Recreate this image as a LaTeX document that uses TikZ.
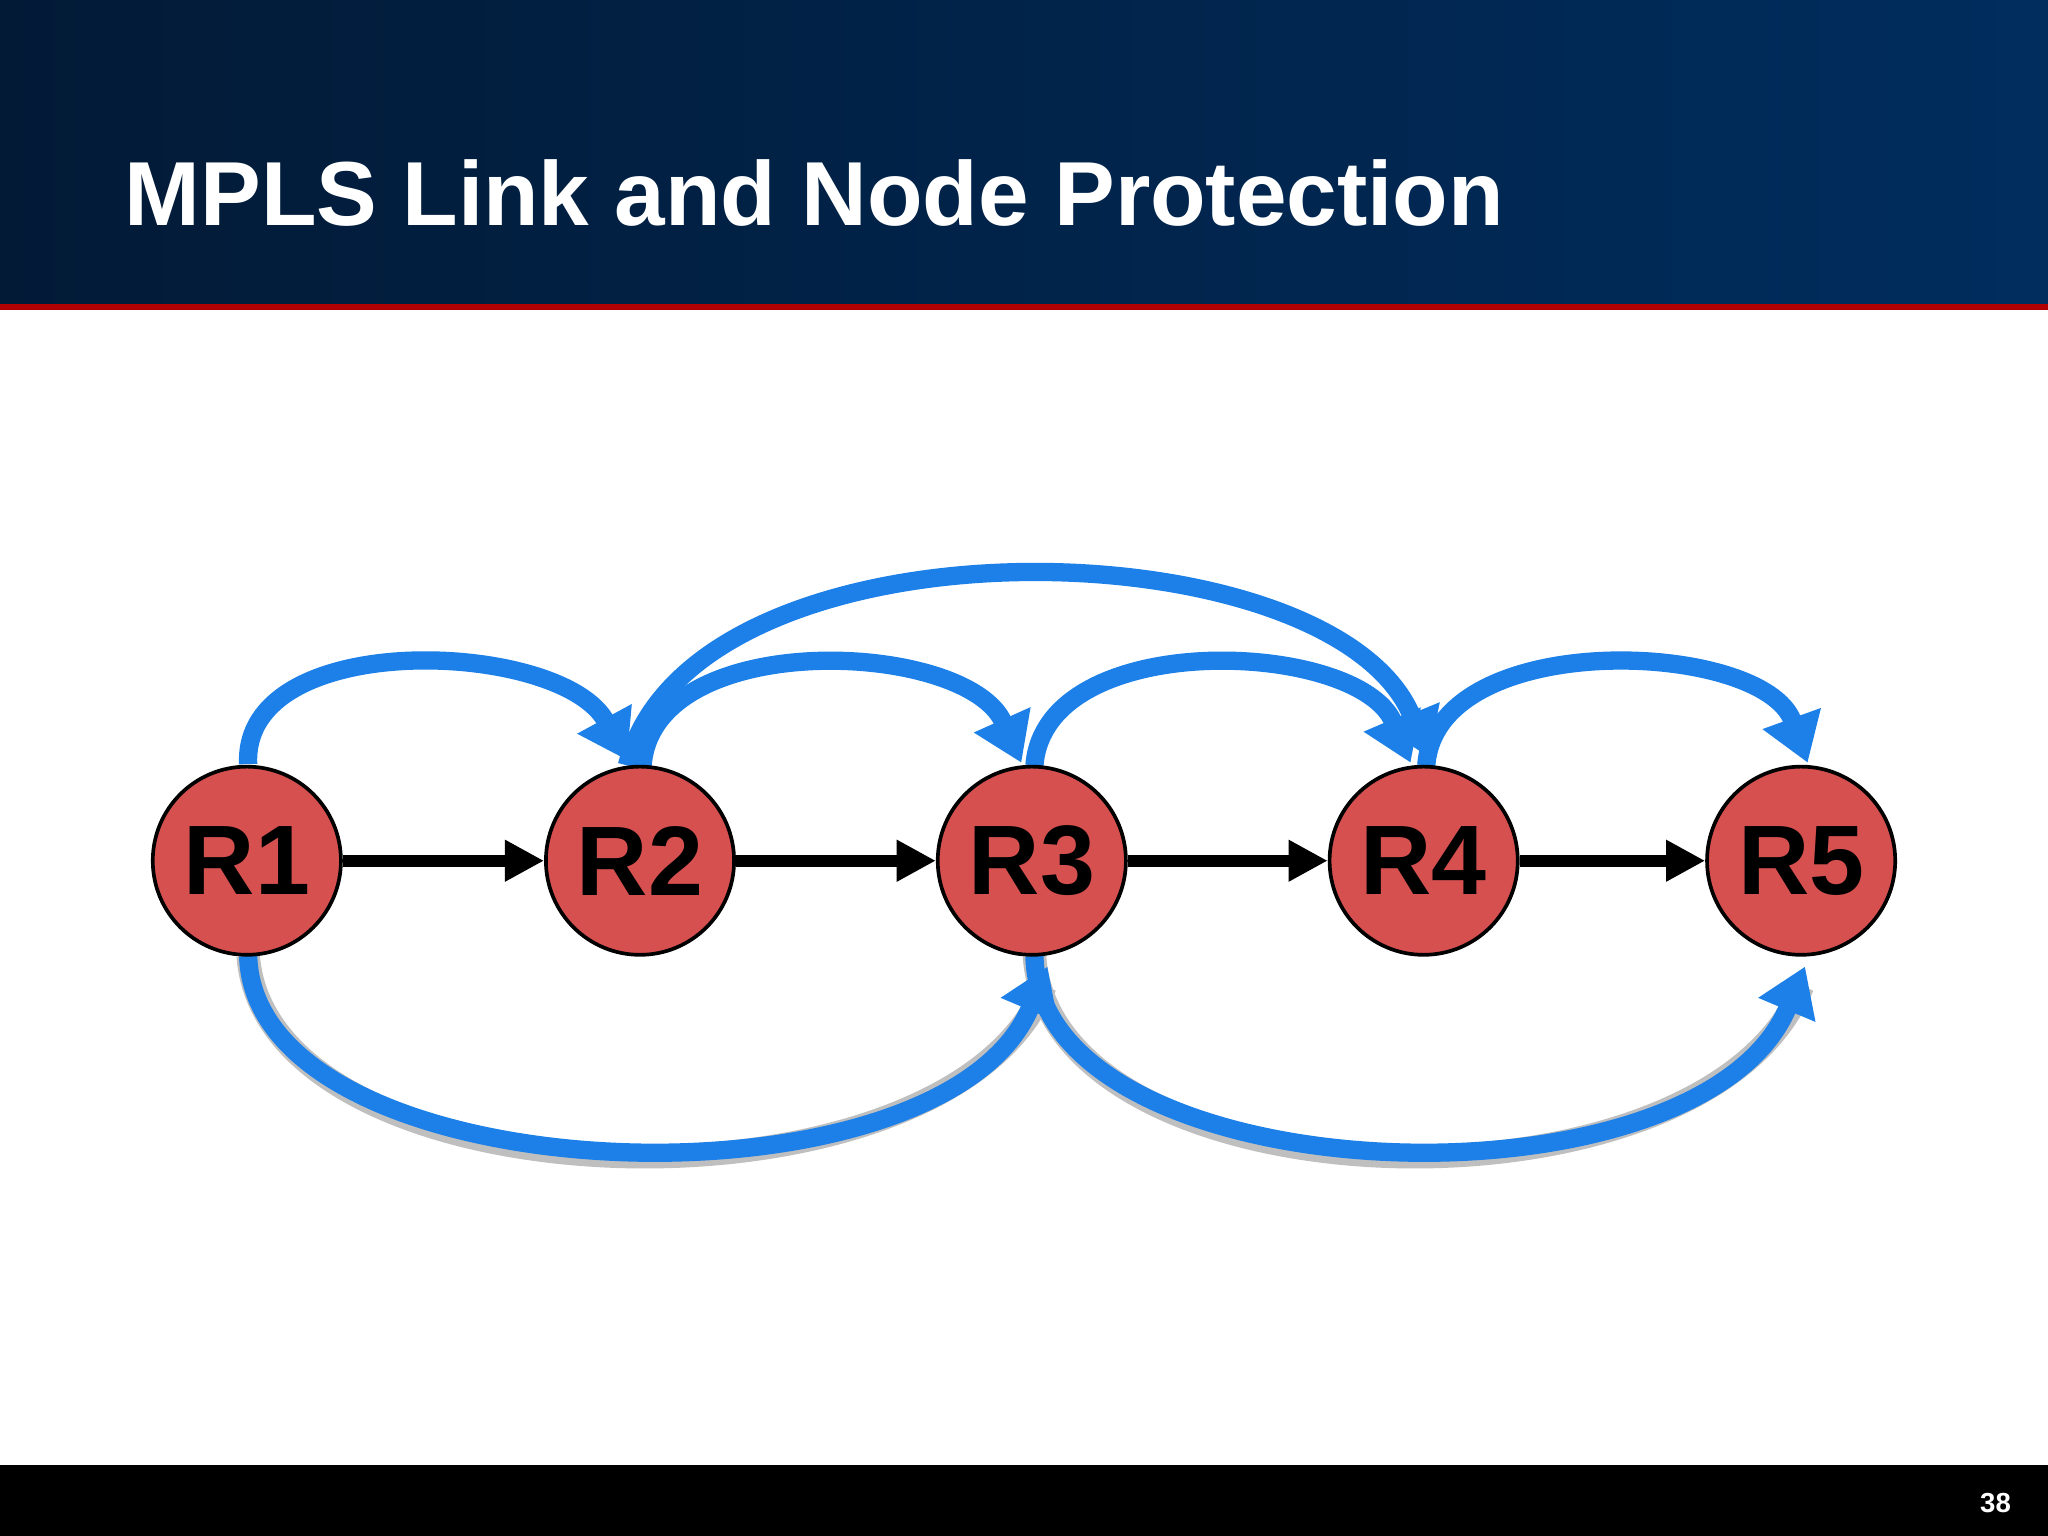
\documentclass[tikz,border=0pt]{standalone}
\usepackage{fontspec}
\setmainfont{Liberation Sans}
\usetikzlibrary{arrows.meta}
\definecolor{navyL}{HTML}{021A36}
\definecolor{navyR}{HTML}{002D5E}
\definecolor{nodered}{HTML}{D65050}
\definecolor{arcblue}{HTML}{1C80E8}
\begin{document}
\begin{tikzpicture}[x=0.01cm,y=-0.01cm,
  router/.style={circle,draw=black,line width=0.8pt,fill=nodered,minimum size=1.44cm,inner sep=0pt,font=\bfseries\fontsize{21.5}{22}\selectfont},
  link/.style={line width=2.6pt,-{Triangle[length=0.3cm,width=0.3cm]}},
  arc/.style={draw=arcblue,line width=0.14cm,-{Triangle[length=0.36cm,width=0.45cm]}},
  shadow/.style={draw=black!25,line width=0.18cm}]
\useasboundingbox (0,0) rectangle (1568,1176);
\shade[left color=navyL,right color=navyR] (0,0) rectangle (1568,233);
\fill[red!70!black] (0,233) rectangle (1568,237);
\fill[black] (0,1122) rectangle (1568,1176);
\node[anchor=base west,text=white,font=\bfseries\fontsize{19.8}{20}\selectfont] (title) at (83,173) {MPLS Link and Node Protection};
\node[anchor=base east,text=white,font=\bfseries\fontsize{6}{6}\selectfont] (pg) at (1552,1158) {38};
\coordinate (a1) at (190,585); \coordinate (b1) at (480,582);
\coordinate (a2) at (492,586); \coordinate (b2) at (782,584);
\coordinate (a3) at (792,586); \coordinate (b3) at (1080,584);
\coordinate (a4) at (1092,586); \coordinate (b4) at (1384,584);
\coordinate (a5) at (480,586); \coordinate (b5) at (1094,580);
\coordinate (c1) at (190,732); \coordinate (d1) at (802,740);
\coordinate (c2) at (792,732); \coordinate (d2) at (1382,740);
% shadows
\draw[shadow] (c1) .. controls (205,925) and (725,940) .. (800,755);
\draw[shadow] (c2) .. controls (805,925) and (1305,940) .. (1380,755);
% blue arcs
\draw[arc] (a1) .. controls (185,480) and (430,490) .. (b1);
\draw[arc] (a2) .. controls (500,480) and (740,490) .. (b2);
\draw[arc] (a3) .. controls (800,480) and (1040,490) .. (b3);
\draw[arc] (a4) .. controls (1100,480) and (1350,490) .. (b4);
\draw[arc] (a5) .. controls (530,390) and (1020,400) .. (b5);
\draw[arc] (c1) .. controls (195,915) and (720,935) .. (d1);
\draw[arc] (c2) .. controls (795,915) and (1300,935) .. (d2);
% routers
\node[router] (R1) at (189,659) {R1};
\node[router] (R2) at (490,659) {R2};
\node[router] (R3) at (790,659) {R3};
\node[router] (R4) at (1090,659) {R4};
\node[router] (R5) at (1379,659) {R5};
\draw[link] (R1) -- (R2);
\draw[link] (R2) -- (R3);
\draw[link] (R3) -- (R4);
\draw[link] (R4) -- (R5);
\end{tikzpicture}
\end{document}
